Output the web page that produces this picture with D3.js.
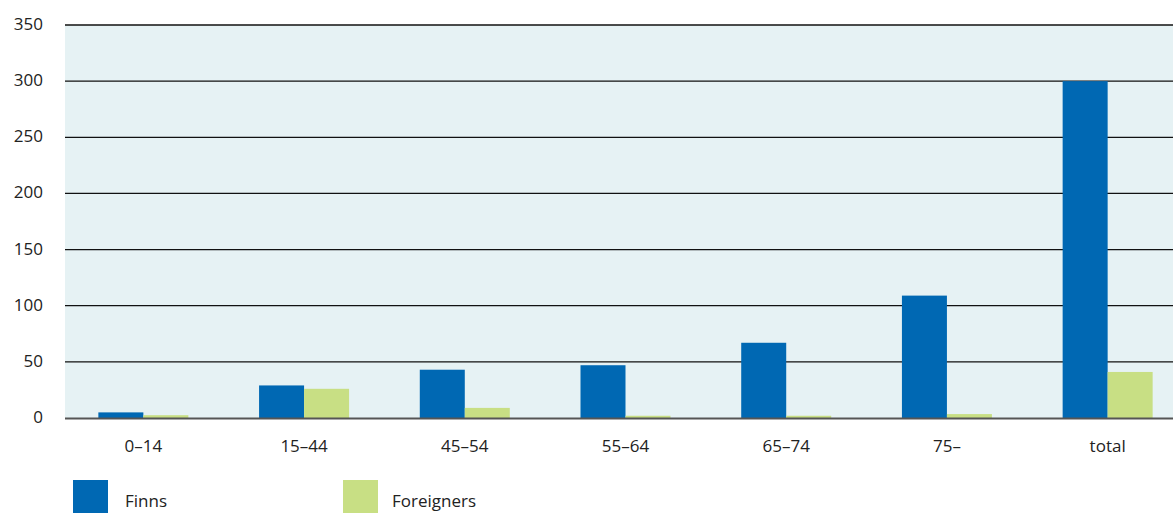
<!DOCTYPE html>
<html><head><meta charset="utf-8">
<script src="https://cdn.jsdelivr.net/npm/d3@7"></script>
<style>body{margin:0;background:#fff}svg{display:block;font-family:"Open Sans",Lato,sans-serif}</style>
</head><body><svg id="c" width="1173" height="513"></svg>
<script>
const categories = ["0–14","15–44","45–54","55–64","65–74","75–","total"];
const finns = [5, 29, 43, 47, 67, 109, 300];
const foreigners = [2.5, 26, 9, 2, 2, 3.5, 41];
const yTicks = [0,50,100,150,200,250,300,350];
const seriesNames = ["Finns","Foreigners"];
const colors = ["#0068b3","#c8df84"];

const svg = d3.select("#c");
const L=65, R=1173, T=25, B=418;
const x = d3.scaleBand().domain(categories).range([63,1188]).paddingInner(0).paddingOuter(0);
const y = d3.scaleLinear().domain([0,350]).range([B,T]);
svg.append("rect").attr("x",L).attr("y",T).attr("width",R-L).attr("height",B-T).attr("fill","#e6f2f4");
svg.append("g").selectAll("line").data(yTicks.filter(d=>d>0)).join("line")
  .attr("x1",L).attr("x2",R).attr("y1",d=>y(d)).attr("y2",d=>y(d))
  .attr("stroke","#111").attr("stroke-width",1.3);
const bw = 45;
const g = svg.append("g");
categories.forEach((c,i)=>{
  const cx = x(c)+x.bandwidth()/2;
  [finns[i],foreigners[i]].forEach((v,j)=>{
    g.append("rect").attr("x", cx - bw + j*bw).attr("y", y(v)).attr("width", bw).attr("height", B - y(v)).attr("fill", colors[j]);
  });
});
svg.append("line").attr("x1",L).attr("x2",R).attr("y1",B+0.5).attr("y2",B+0.5).attr("stroke","#555").attr("stroke-width",2);
svg.append("g").selectAll("text").data(yTicks).join("text")
  .attr("x",43).attr("y",d=>y(d)+5).attr("text-anchor","end").attr("font-size",17).attr("fill","#222").text(d=>d);
svg.append("g").selectAll("text").data(categories).join("text")
  .attr("x",d=>x(d)+x.bandwidth()/2).attr("y",452).attr("text-anchor","middle").attr("font-size",17).attr("fill","#222").text(d=>d);
const leg = svg.append("g");
const lx=[73,343], tx=[125,392];
seriesNames.forEach((n,i)=>{
  leg.append("rect").attr("x",lx[i]).attr("y",480).attr("width",35).attr("height",35).attr("fill",colors[i]);
  leg.append("text").attr("x",tx[i]).attr("y",507).attr("font-size",17).attr("fill","#222").text(n);
});
</script></body></html>
